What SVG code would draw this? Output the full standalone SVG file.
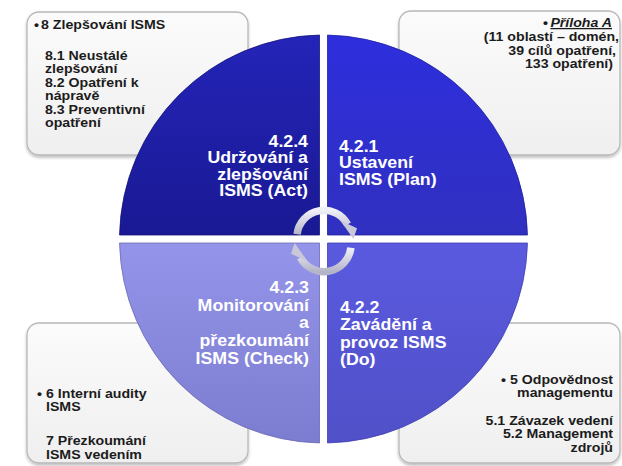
<svg xmlns="http://www.w3.org/2000/svg" width="622" height="466" viewBox="0 0 622 466">
<defs>
<style>
.box{fill:url(#gBox);stroke:#b8b8b8;stroke-width:1.3;filter:url(#sh)}
.bt{font-family:"Liberation Sans",Arial,sans-serif;font-weight:bold;font-size:13px;fill:#1c1c1c}
.ct{font-family:"Liberation Sans",Arial,sans-serif;font-weight:bold;font-size:16px;fill:#ffffff}
.arc{fill:none;stroke:url(#gArr);stroke-width:7.5}
.head{fill:#c8c8d8}
</style>
<linearGradient id="gBox" x1="0" y1="0" x2="0" y2="1"><stop offset="0" stop-color="#fbfbfb"/><stop offset="1" stop-color="#efefef"/></linearGradient>
<linearGradient id="gTL" x1="0" y1="0" x2="0" y2="1"><stop offset="0" stop-color="#2424b8"/><stop offset="1" stop-color="#191994"/></linearGradient>
<linearGradient id="gTR" x1="0" y1="0" x2="0" y2="1"><stop offset="0" stop-color="#2e2ede"/><stop offset="1" stop-color="#3030c0"/></linearGradient>
<linearGradient id="gBL" x1="0" y1="0" x2="0" y2="1"><stop offset="0" stop-color="#9494ea"/><stop offset="1" stop-color="#7c7cd0"/></linearGradient>
<linearGradient id="gBR" x1="0" y1="0" x2="0" y2="1"><stop offset="0" stop-color="#5a5ae0"/><stop offset="1" stop-color="#5050c8"/></linearGradient>
<linearGradient id="gArr" x1="0" y1="0" x2="0" y2="1"><stop offset="0" stop-color="#f0f0f8"/><stop offset="1" stop-color="#b4b4c8"/></linearGradient>
<filter id="sh" x="-10%" y="-10%" width="120%" height="125%"><feDropShadow dx="0" dy="2" stdDeviation="1.5" flood-color="#000" flood-opacity="0.25"/></filter>
</defs>
<rect width="622" height="466" fill="#ffffff"/>

<g id="box-act">
<rect class="box" x="27" y="12" width="221" height="143" rx="12"/>
<text class="bt" transform="translate(34,29) scale(1.09,1)">•</text>
<text class="bt" transform="translate(41,29) scale(1.09,1)">8 Zlepšování ISMS</text>
<text class="bt" transform="translate(45,60) scale(1.09,1)"><tspan x="0" y="0">8.1 Neustálé</tspan><tspan x="0" y="13.5">zlepšování</tspan><tspan x="0" y="27">8.2 Opatření k</tspan><tspan x="0" y="40.5">nápravě</tspan><tspan x="0" y="54">8.3 Preventivní</tspan><tspan x="0" y="67.5">opatření</tspan></text>
</g>

<g id="box-plan">
<rect class="box" x="399" y="11" width="221" height="144" rx="12"/>
<text class="bt" transform="translate(548,27) scale(1.09,1)" text-anchor="end">•</text>
<text class="bt" transform="translate(612,27) scale(1.09,1)" text-anchor="end" font-style="italic" text-decoration="underline">Příloha A</text>
<text class="bt" transform="translate(619,41) scale(1.09,1)" text-anchor="end">(11 oblastí – domén,</text>
<text class="bt" transform="translate(616,54.5) scale(1.09,1)" text-anchor="end">39 cílů opatření,</text>
<text class="bt" transform="translate(613,68) scale(1.09,1)" text-anchor="end">133 opatření)</text>
</g>

<g id="box-check">
<rect class="box" x="27" y="323" width="221" height="140" rx="12"/>
<text class="bt" transform="translate(37,397.5) scale(1.09,1)">•</text>
<text class="bt" transform="translate(46,397.5) scale(1.09,1)"><tspan x="0" y="0">6 Interní audity</tspan><tspan x="0" y="14">ISMS</tspan><tspan x="0" y="47.5">7 Přezkoumání</tspan><tspan x="0" y="61.5">ISMS vedením</tspan></text>
</g>

<g id="box-do">
<rect class="box" x="399" y="323" width="221" height="140" rx="12"/>
<text class="bt" transform="translate(613,384) scale(1.09,1)" text-anchor="end" font-size="11.7"><tspan x="0" y="0">• 5 Odpovědnost</tspan><tspan x="0" y="13">managementu</tspan><tspan x="0" y="41">5.1 Závazek vedení</tspan><tspan x="0" y="54.5">5.2 Management</tspan><tspan x="0" y="68">zdrojů</tspan></text>
</g>

<g id="q-act">
<path d="M319.5,235 L319.5,35.04 A204,204 0 0 0 119.54,235 Z" fill="url(#gTL)" stroke="#15157a" stroke-width="0.8"/>
<text class="ct" transform="translate(308,147) scale(1.11,1)" text-anchor="end"><tspan x="0" y="0">4.2.4</tspan><tspan x="0" y="16.5">Udržování a</tspan><tspan x="0" y="33">zlepšování</tspan><tspan x="0" y="49.5">ISMS (Act)</tspan></text>
</g>

<g id="q-plan">
<path d="M327.5,235 L327.5,35.04 A204,204 0 0 1 527.46,235 Z" fill="url(#gTR)" stroke="#2020a0" stroke-width="0.8"/>
<text class="ct" transform="translate(339,152) scale(1.11,1)"><tspan x="0" y="0">4.2.1</tspan><tspan x="0" y="16.5">Ustavení</tspan><tspan x="0" y="33">ISMS (Plan)</tspan></text>
</g>

<g id="q-check">
<path d="M319.5,243 L119.54,243 A204,204 0 0 0 319.5,442.96 Z" fill="url(#gBL)" stroke="#6a6ab4" stroke-width="0.8"/>
<text class="ct" transform="translate(309,293) scale(1.11,1)" text-anchor="end"><tspan x="0" y="0">4.2.3</tspan><tspan x="0" y="17.75">Monitorování</tspan><tspan x="0" y="35.5">a</tspan><tspan x="0" y="53.25">přezkoumání</tspan><tspan x="0" y="71">ISMS (Check)</tspan></text>
</g>

<g id="q-do">
<path d="M327.5,243 L527.46,243 A204,204 0 0 1 327.5,442.96 Z" fill="url(#gBR)" stroke="#4040b0" stroke-width="0.8"/>
<text class="ct" transform="translate(340,313) scale(1.11,1)"><tspan x="0" y="0">4.2.2</tspan><tspan x="0" y="17.5">Zavádění a</tspan><tspan x="0" y="35">provoz ISMS</tspan><tspan x="0" y="52.5">(Do)</tspan></text>
</g>

<g id="connectors">
<path class="arc" d="M297.1,234.2 A27,27 0 0 1 347.6,224.4"/>
<polygon class="head" points="340.4,220.5 357,228.3 353.4,239"/>
<path class="arc" d="M350.9,247.8 A27,27 0 0 1 300.4,257.6"/>
<polygon class="head" points="307.6,261.5 291,253.7 294.6,243"/>
</g>
</svg>
